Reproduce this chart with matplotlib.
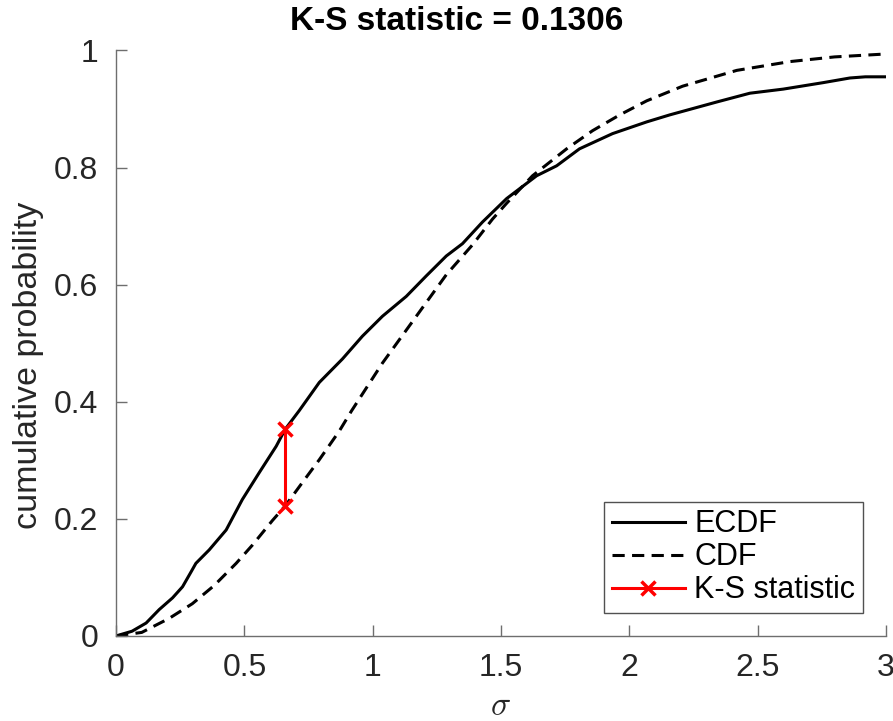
import numpy as np
import matplotlib
matplotlib.use('Agg')
from matplotlib import pyplot as plt

# values
ecdf_x = [0.0, 0.062, 0.117, 0.168, 0.22, 0.259, 0.293, 0.311, 0.363, 0.429, 0.492, 0.558,
          0.624, 0.659, 0.714, 0.792, 0.882, 0.96, 1.038, 1.131, 1.209, 1.287, 1.35, 1.428,
          1.522, 1.639, 1.717, 1.806, 1.935, 2.068, 2.158, 2.341, 2.47, 2.6, 2.755, 2.86,
          2.92, 3.0]
ecdf_y = [0.0, 0.008, 0.022, 0.045, 0.065, 0.084, 0.11, 0.124, 0.147, 0.181, 0.233, 0.279,
          0.324, 0.353, 0.385, 0.433, 0.473, 0.512, 0.546, 0.58, 0.615, 0.649, 0.67, 0.707,
          0.747, 0.786, 0.803, 0.832, 0.858, 0.878, 0.89, 0.912, 0.927, 0.934, 0.945, 0.953,
          0.955, 0.955]

cdf_x = [0.0, 0.1, 0.207, 0.297, 0.382, 0.468, 0.531, 0.609, 0.659, 0.726, 0.792, 0.87,
         0.917, 1.038, 1.17, 1.287, 1.389, 1.467, 1.522, 1.623, 1.756, 1.857, 1.963, 2.068,
         2.208, 2.419, 2.626, 2.8, 3.0]
cdf_y = [0.0, 0.006, 0.03, 0.055, 0.086, 0.124, 0.155, 0.197, 0.222, 0.262, 0.301, 0.35,
         0.384, 0.466, 0.546, 0.617, 0.668, 0.712, 0.739, 0.786, 0.832, 0.863, 0.89, 0.914,
         0.939, 0.966, 0.981, 0.989, 0.994]

ks_x = [0.659, 0.659]
ks_y = [0.353, 0.222]
ks_stat = 0.1306

plt.rcParams['font.family'] = ['Liberation Sans', 'DejaVu Sans']
plt.rcParams['mathtext.fontset'] = 'cm'

fig = plt.figure(figsize=(8.93, 7.21), dpi=100)
ax = fig.add_axes([0.130, 0.118, 0.862, 0.812])

ax.plot(ecdf_x, ecdf_y, '-', color='k', lw=2.2, label='ECDF')
ax.plot(cdf_x, cdf_y, '--', color='k', lw=2.2, dashes=(4, 2.4), label='CDF')
ax.plot(ks_x, ks_y, '-x', color='red', lw=2.2, ms=10, mew=2.5, label='K-S statistic')

ax.set_xlim(0, 3)
ax.set_ylim(0, 1)
ax.set_xticks([0, 0.5, 1, 1.5, 2, 2.5, 3])
ax.set_xticklabels(['0', '0.5', '1', '1.5', '2', '2.5', '3'])
ax.set_yticks([0, 0.2, 0.4, 0.6, 0.8, 1])
ax.set_yticklabels(['0', '0.2', '0.4', '0.6', '0.8', '1'])

gray = '#262626'
for s in ['top', 'right']:
    ax.spines[s].set_visible(False)
for s in ['left', 'bottom']:
    ax.spines[s].set_color('#6e6e6e')
    ax.spines[s].set_linewidth(1.0)
ax.tick_params(direction='in', length=8, width=1.0, color='#6e6e6e',
               labelsize=23, labelcolor=gray)
ax.tick_params(axis='x', pad=12)
ax.tick_params(axis='y', pad=13)

ax.set_xlabel(r'$\sigma$', fontsize=24, color=gray, labelpad=6)
ax.set_ylabel('cumulative probability', fontsize=24.5, color=gray)
ax.yaxis.set_label_coords(-0.094, 0.462)

# title sits left of the axes centre in the reference
fig.text(457 / 893, 1 - 22 / 721, 'K-S statistic = %.4f' % ks_stat, fontsize=24,
         fontweight='bold', ha='center', va='center')

leg = ax.legend(loc='lower right', bbox_to_anchor=(0.970, 0.039), fontsize=22,
                frameon=True, fancybox=False, edgecolor='#262626',
                handlelength=2.4, handletextpad=0.3, borderpad=0.25, labelspacing=0.1,
                borderaxespad=0)
leg.get_frame().set_linewidth(1.0)

fig.savefig('out.png', dpi=100)
